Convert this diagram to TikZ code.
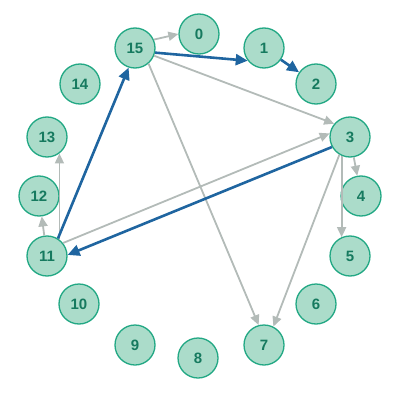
\documentclass[tikz,border=0pt]{standalone}
\usepackage{fontspec}
\setmainfont{Liberation Sans}
\usetikzlibrary{arrows.meta}
\definecolor{nfill}{HTML}{ABDCCA}
\definecolor{nedge}{HTML}{22A884}
\definecolor{ntext}{HTML}{167A5F}
\definecolor{egray}{HTML}{B3BBB8}
\definecolor{eblue}{HTML}{1F65A0}
\tikzset{
  vert/.style={circle, draw=nedge, fill=nfill, line width=1.3pt, minimum size=40pt, inner sep=0pt, text=ntext, font=\fontsize{15}{15}\selectfont\bfseries},
  gedge/.style={draw=egray, line width=1.8pt, -{Triangle[length=10pt,width=9pt]}},
  bedge/.style={draw=eblue, line width=2.6pt, -{Triangle[length=12pt,width=11pt]}}
}
\begin{document}
\begin{tikzpicture}[x=1pt,y=-1pt]
\useasboundingbox (0,0) rectangle (400,401);
\node[vert] (n0) at (199,34) {0};
\node[vert] (n1) at (264,48) {1};
\node[vert] (n2) at (316,84) {2};
\node[vert] (n3) at (350,137) {3};
\node[vert] (n4) at (361,196) {4};
\node[vert] (n5) at (350,256) {5};
\node[vert] (n6) at (316,304) {6};
\node[vert] (n7) at (264,345) {7};
\node[vert] (n8) at (198,358) {8};
\node[vert] (n9) at (135,345) {9};
\node[vert] (n10) at (79,304) {10};
\node[vert] (n11) at (47,256) {11};
\node[vert] (n12) at (39,196) {12};
\node[vert] (n13) at (47,137) {13};
\node[vert] (n14) at (80,84) {14};
\node[vert] (n15) at (135,48) {15};

\draw[gedge] (n15.24) -- (n0.180);
\draw[gedge] (n15.-22) -- (n3.140);
\draw[gedge] (n15.-49) -- (n7.105);
\draw[gedge] (n3.-121) -- (n7.63);
\draw[gedge] (n3) -- (n4);
\draw[gedge] (n3.-114) -- (n5.114);
\draw[gedge] (n11.39) -- (n3.170);
\draw[gedge] (n11) -- (n12);
\draw[gedge] (n11.53) -- (n13.-53);
\draw[bedge] (n15.-13) -- (n1.-142);
\draw[bedge] (n1) -- (n2);
\draw[bedge] (n3.-151) -- (n11.3);
\draw[bedge] (n11.58) -- (n15.-108);
\end{tikzpicture}
\end{document}
